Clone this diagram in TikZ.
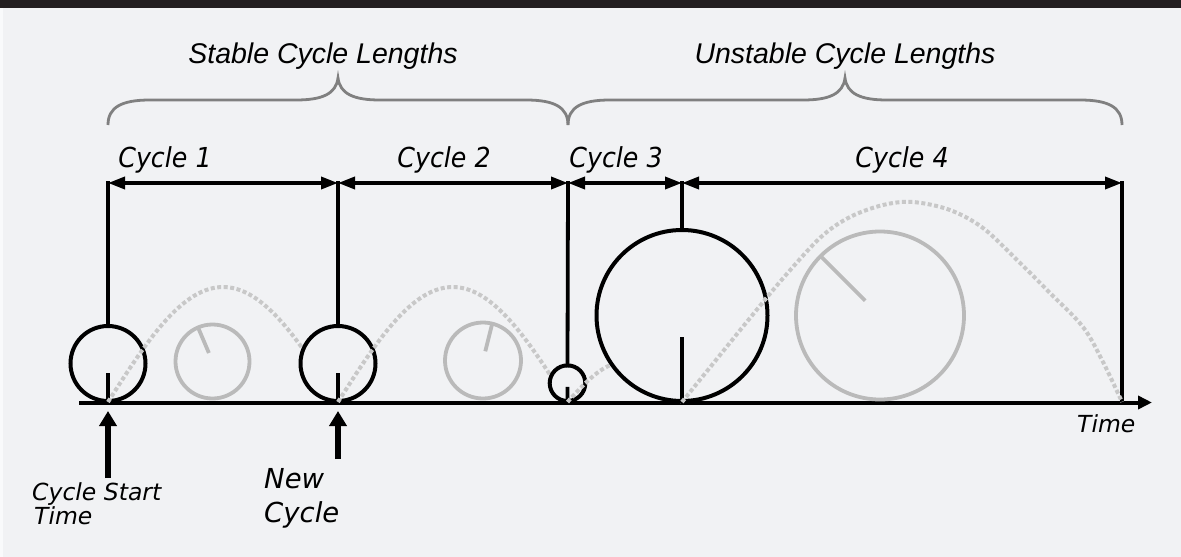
\documentclass[tikz,border=0pt]{standalone}
\usepackage{fontspec}
\usetikzlibrary{arrows.meta,calc}
\newfontfamily\dvfont{DejaVu Sans}
\newfontfamily\dvcfont{DejaVu Sans}[FakeStretch=0.92]
\newfontfamily\libfont{Liberation Sans}
\definecolor{bgc}{RGB}{241,242,244}
\definecolor{band}{RGB}{35,31,32}
\definecolor{ringgray}{RGB}{186,186,186}
\definecolor{dotgray}{RGB}{200,200,200}
\definecolor{bracegray}{RGB}{128,128,128}
\begin{document}
\begin{tikzpicture}[x=1pt,y=-1pt,
  ring/.style={circle, draw=black, line width=4pt, fill=bgc, inner sep=0pt, outer sep=0pt},
  ghost/.style={circle, draw=ringgray, line width=3.8pt, inner sep=0pt, outer sep=0pt},
  ringtick/.style={draw=black, line width=3.8pt},
  ghosttick/.style={draw=ringgray, line width=3.8pt},
  trail/.style={draw=dotgray, line width=4pt, dash pattern=on 4pt off 2.5pt},
  bracestyle/.style={draw=bracegray, line width=2.8pt},
  spanarrow/.style={line width=3.5pt, {Triangle[length=17pt,width=12pt]}-{Triangle[length=17pt,width=12pt]}},
  riser/.style={line width=3.8pt, line cap=rect},
  pointer/.style={line width=5.5pt, -{Triangle[length=15pt,width=17pt]}},
  toplabel/.style={inner sep=0pt, anchor=base, font=\libfont\itshape\fontsize{28.5}{34}\selectfont},
  cyclabel/.style={inner sep=0pt, anchor=base, font=\dvcfont\itshape\fontsize{27.5}{33}\selectfont},
  smalllabel/.style={inner sep=0pt, anchor=base west, font=\dvfont\itshape\fontsize{23.5}{28}\selectfont},
  biglabel/.style={inner sep=0pt, anchor=base west, font=\dvfont\itshape\fontsize{27.5}{33}\selectfont}
]
\useasboundingbox (0,0) rectangle (1181,557);
\fill[bgc] (0,0) rectangle (1181,557);
\fill[white!60!bgc] (0,0) rectangle (3,557);
\fill[band] (0,0) rectangle (1181,8);

% braces
\draw[bracestyle] (108,125) .. controls (108,107) and (122,100) .. (150,100) -- (296,100)
  .. controls (322,100) and (336,94) .. (338,78) .. controls (340,94) and (354,100) .. (380,100)
  -- (526,100) .. controls (554,100) and (568,107) .. (568,125);
\draw[bracestyle] (568,125) .. controls (568,107) and (582,100) .. (610,100) -- (803,100)
  .. controls (829,100) and (843,94) .. (845,78) .. controls (847,94) and (861,100) .. (887,100)
  -- (1080,100) .. controls (1108,100) and (1122,107) .. (1122,125);

\node[toplabel] (stable) at (323,63) {Stable Cycle Lengths};
\node[toplabel] (unstable) at (845,63) {Unstable Cycle Lengths};

\node[cyclabel] (l1) at (165,167) {Cycle 1};
\node[cyclabel] (l2) at (444,167) {Cycle 2};
\node[cyclabel] (l3) at (616,167) {Cycle 3};
\node[cyclabel] (l4) at (902,167) {Cycle 4};

% coordinates
\coordinate (t1) at (108,183);
\coordinate (t2) at (338,183);
\coordinate (t3) at (568,183);
\coordinate (t4) at (682,183);
\coordinate (t5) at (1122,183);
\coordinate (e5) at (1122,402.5);
\coordinate (axs) at (79,402.5);
\coordinate (axe) at (1152,402.5);

% axis
\draw[line width=4pt, -{Triangle[length=14pt,width=13pt]}] (axs) -- (axe);
\node[smalllabel] (timelbl) at (1077,432) {Time};

% span arrows
\draw[spanarrow] (t1) -- (t2);
\draw[spanarrow] (t2) -- (t3);
\draw[spanarrow] (t3) -- (t4);
\draw[spanarrow] (t4) -- (t5);
\draw[riser] (t5) -- (e5);

% cycle 1
\node[ring, minimum size=75pt] (c1) at (108,363.5) {};
\draw[riser] (c1.north) -- (t1);
\draw[ringtick] (c1.south) -- ($(c1.center)!0.25!(c1.south)$);
\draw[trail] plot[domain=0:1,samples=60] ({108+230*\x},{402-115*sin(180*\x)});
\node[ghost, minimum size=74pt] (g1) at (212.5,361.5) {};
\draw[ghosttick] (g1.113) -- ($(g1.center)!0.25!(g1.113)$);

% cycle 2
\node[ring, minimum size=75pt] (c2) at (338,363.5) {};
\draw[riser] (c2.north) -- (t2);
\draw[ringtick] (c2.south) -- ($(c2.center)!0.25!(c2.south)$);
\draw[trail] plot[domain=0:1,samples=60] ({338+229.5*\x},{402-115*sin(180*\x)});
\node[ghost, minimum size=76pt] (g2) at (483,360.5) {};
\draw[ghosttick] (g2.76) -- ($(g2.center)!0.25!(g2.76)$);

% cycle 3
\node[ring, minimum size=35.6pt] (c3) at (567.5,383.2) {};
\draw[riser] (c3.north) -- (t3);
\draw[ringtick] (c3.south) -- ($(c3.center)!0.2!(c3.south)$);
\draw[trail] plot[domain=0:1,samples=40] ({567.5+114.5*\x},{402-40*sin(180*\x)});

% cycle 4
\node[ring, minimum size=171pt] (c4) at (682,315.5) {};
\draw[riser] (c4.north) -- (t4);
\draw[ringtick] (c4.south) -- ($(c4.center)!0.25!(c4.south)$);
\draw[trail] plot[smooth, tension=0.55] coordinates {(682,402) (716,360) (750,318) (785,276) (821,237) (850,217) (883,205) (913,202) (950,210) (983,228) (1017,260) (1050,293) (1083,327) (1103,362) (1122,402)};
\node[ghost, minimum size=168pt] (g4) at (880,315.5) {};
\draw[ghosttick] (g4.135) -- ($(g4.center)!0.25!(g4.135)$);

% pointers
\coordinate (p1s) at (108,478);
\coordinate (p1e) at (108,411);
\coordinate (p2s) at (338,459);
\coordinate (p2e) at (338,411);
\draw[pointer] (p1s) -- (p1e);
\draw[pointer] (p2s) -- (p2e);

\node[smalllabel] (cs1) at (32,500) {Cycle Start};
\node[smalllabel] (cs2) at (34,524) {Time};
\node[biglabel] (nc1) at (264,488) {New};
\node[biglabel] (nc2) at (264,522) {Cycle};
\end{tikzpicture}
\end{document}
